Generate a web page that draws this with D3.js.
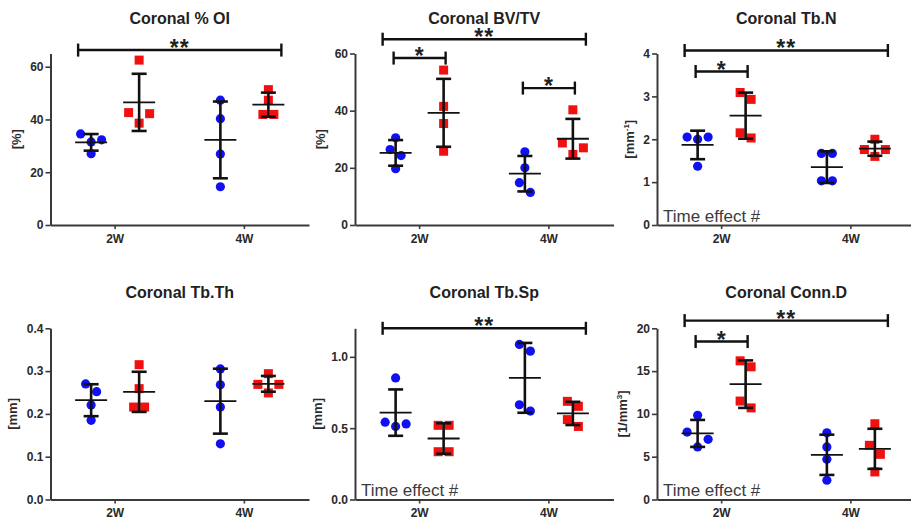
<!DOCTYPE html>
<html>
<head>
<meta charset="utf-8">
<script src="https://cdn.jsdelivr.net/npm/d3@7"></script>
<style>
  html, body { margin: 0; padding: 0; background: #fff; }
  svg { display: block; font-family: "Liberation Sans", Arial, sans-serif; }
</style>
</head>
<body>
<svg id="chart" width="911" height="525"></svg>
<script>
// ---------------- DATA ----------------
const categories = ["2W", "4W"];
const seriesNames = ["Group A", "Group B"];   // blue circles, red squares

const titles = ["Coronal % OI", "Coronal BV/TV", "Coronal Tb.N",
                "Coronal Tb.Th", "Coronal Tb.Sp", "Coronal Conn.D"];
const yUnits = [["[%]"], ["[%]"], ["[mm", "-1", "]"],
                ["[mm]"], ["[mm]"], ["[1/mm", "3", "]"]];
const yMax = [65, 60, 4, 0.4, 1.2, 20];
const yTicks = [[0, 20, 40, 60], [0, 20, 40, 60], [0, 1, 2, 3, 4],
                [0, 0.1, 0.2, 0.3, 0.4], [0, 0.5, 1.0], [0, 5, 10, 15, 20]];
const yFormats = ["d", "d", "d", ".1f", ".1f", "d"];
const timeEffect = [false, false, true, false, true, true];

// individual values: [series][category][animals]
const oiValues = [
  [[34.5, 32.3, 31.5, 27.0], [47.3, 40.3, 26.9, 14.5]],
  [[62.5, 42.6, 42.2, 38.6], [51.3, 47.3, 41.9, 41.9]]
];
const bvtvValues = [
  [[30.5, 26.4, 24.3, 19.7], [25.6, 20.0, 14.8, 11.4]],
  [[54.2, 41.5, 35.5, 25.8], [40.3, 28.7, 27.0, 24.7]]
];
const tbnValues = [
  [[2.05, 2.05, 2.00, 1.37], [1.67, 1.67, 1.03, 1.03]],
  [[3.09, 2.93, 2.15, 2.03], [2.00, 1.76, 1.76, 1.60]]
];
const tbthValues = [
  [[0.270, 0.252, 0.221, 0.185], [0.305, 0.268, 0.216, 0.130]],
  [[0.315, 0.259, 0.216, 0.216], [0.294, 0.269, 0.269, 0.249]]
];
const tbspValues = [
  [[0.852, 0.542, 0.530, 0.512], [1.087, 1.040, 0.664, 0.620]],
  [[0.520, 0.520, 0.335, 0.335], [0.688, 0.653, 0.560, 0.512]]
];
const conndValues = [
  [[9.83, 7.88, 7.03, 6.14], [7.80, 6.14, 4.70, 2.25]],
  [[16.2, 15.5, 11.5, 10.7], [8.85, 6.33, 5.28, 3.22]]
];

// significance brackets: from [category, series] to [category, series] at a y value
const oiSig = [{ from: [0, 0], to: [1, 1], y: 66.3, label: "**" }];
const bvtvSig = [
  { from: [0, 0], to: [1, 1], y: 65.0, label: "**" },
  { from: [0, 0], to: [0, 1], y: 58.4, label: "*" },
  { from: [1, 0], to: [1, 1], y: 47.9, label: "*" }
];
const tbnSig = [
  { from: [0, 0], to: [1, 1], y: 4.07, label: "**" },
  { from: [0, 0], to: [0, 1], y: 3.58, label: "*" }
];
const tbthSig = [];
const tbspSig = [{ from: [0, 0], to: [1, 1], y: 1.2, label: "**" }];
const conndSig = [
  { from: [0, 0], to: [1, 1], y: 20.9, label: "**" },
  { from: [0, 0], to: [0, 1], y: 18.45, label: "*" }
];

const panelValues = [oiValues, bvtvValues, tbnValues, tbthValues, tbspValues, conndValues];
const panelSigs = [oiSig, bvtvSig, tbnSig, tbthSig, tbspSig, conndSig];

// ---------------- LAYOUT / STYLE ----------------
const colX = [50.5, 355, 657];
const panelW = 258.5;
const rowTop = [53.5, 328.3];
const rowBottom = [225, 499.5];
const groupOffset = 24;
const colors = ["#1010f0", "#f01010"];
const axisColor = "#3a3a3a";

const svg = d3.select("#chart");
svg.append("rect").attr("width", 911).attr("height", 525).attr("fill", "#fff");

// simple GraphPad-like horizontal spreading of overlapping points
function spreadOffsets(vals, y) {
  const items = vals.map((v, i) => ({ v, i, py: y(v) })).sort((a, b) => b.v - a.v);
  const clusters = [];
  let cur = [items[0]];
  for (let k = 1; k < items.length; k++) {
    if (items[k].py - items[k - 1].py < 10) cur.push(items[k]);
    else { clusters.push(cur); cur = [items[k]]; }
  }
  clusters.push(cur);
  const offs = new Array(vals.length).fill(0);
  clusters.forEach(c => {
    let pattern;
    if (c.length === 1) pattern = [0];
    else if (c.length === 2) pattern = [-5.5, 5.5];
    else if (c.length === 3) pattern = [-10.5, 10.5, 0];
    else pattern = c.map((_, j) => (j - (c.length - 1) / 2) * 11);
    c.forEach((it, j) => { offs[it.i] = pattern[j]; });
  });
  return offs;
}

function drawPanel(p) {
  const col = p % 3, row = Math.floor(p / 3);
  const x0 = colX[col];
  const yB = rowBottom[row], yT = rowTop[row];
  const g = svg.append("g");

  const x = d3.scaleBand().domain(categories).range([x0, x0 + panelW]);
  const y = d3.scaleLinear().domain([0, yMax[p]]).range([yB, yT]);
  const groupX = (ci, si) => x(categories[ci]) + x.bandwidth() / 2 + (si === 0 ? -groupOffset : groupOffset);

  // axes
  const yAxis = g.append("g")
    .attr("transform", `translate(${x0},0)`)
    .call(d3.axisLeft(y).tickValues(yTicks[p]).tickFormat(d3.format(yFormats[p]))
      .tickSize(5).tickSizeOuter(0).tickPadding(2));
  const xAxis = g.append("g")
    .attr("transform", `translate(0,${yB})`)
    .call(d3.axisBottom(x).tickSize(4).tickSizeOuter(0).tickPadding(5));
  [yAxis, xAxis].forEach(a => {
    a.select(".domain").attr("stroke", axisColor).attr("stroke-width", 2);
    a.selectAll(".tick line").attr("stroke", axisColor).attr("stroke-width", 1.6);
    a.selectAll(".tick text").attr("fill", "#2a2a2a").attr("font-size", 12)
      .attr("font-weight", "bold").attr("font-family", "'Liberation Sans', Arial, sans-serif");
  });

  // y label
  const tickW = yAxis.node().getBBox().width;
  const lx = x0 - tickW - 9, ly = (yB + yT) / 2;
  const lab = g.append("text")
    .attr("transform", `translate(${lx},${ly}) rotate(-90)`)
    .attr("text-anchor", "middle")
    .attr("font-size", 13).attr("font-weight", "bold").attr("fill", "#2a2a2a");
  const parts = yUnits[p];
  lab.append("tspan").text(parts[0]);
  if (parts.length > 1) {
    lab.append("tspan").attr("font-size", 8).attr("dy", -5).text(parts[1]);
    lab.append("tspan").attr("dy", 5).text(parts[2]);
  }

  // title
  g.append("text")
    .attr("x", x0 + panelW / 2).attr("y", yT - 30)
    .attr("text-anchor", "middle")
    .attr("font-size", 16).attr("font-weight", "bold").attr("fill", "#222")
    .text(titles[p]);

  // time effect note
  if (timeEffect[p]) {
    g.append("text")
      .attr("x", x0 + 6).attr("y", yB - 3.5)
      .attr("font-size", 17).attr("fill", "#3c3c3c")
      .text("Time effect #");
  }

  const vals = panelValues[p];
  // points
  vals.forEach((series, si) => {
    series.forEach((arr, ci) => {
      const offs = spreadOffsets(arr, y);
      const cx = groupX(ci, si);
      arr.forEach((v, k) => {
        if (si === 0) {
          g.append("circle").attr("cx", cx + offs[k]).attr("cy", y(v)).attr("r", 4.6)
            .attr("fill", colors[0]);
        } else {
          g.append("rect").attr("x", cx + offs[k] - 4.5).attr("y", y(v) - 4.5)
            .attr("width", 9).attr("height", 9).attr("fill", colors[1]);
        }
      });
    });
  });

  // mean ± SD
  vals.forEach((series, si) => {
    series.forEach((arr, ci) => {
      const cx = groupX(ci, si);
      const m = d3.mean(arr), sd = d3.deviation(arr);
      const yTop = y(m + sd), yBot = y(m - sd), yM = y(m);
      const eb = g.append("g").attr("stroke", "#111").attr("fill", "none");
      eb.append("line").attr("x1", cx).attr("x2", cx).attr("y1", yTop).attr("y2", yBot).attr("stroke-width", 2.6);
      eb.append("line").attr("x1", cx - 7.5).attr("x2", cx + 7.5).attr("y1", yTop).attr("y2", yTop).attr("stroke-width", 2.6);
      eb.append("line").attr("x1", cx - 7.5).attr("x2", cx + 7.5).attr("y1", yBot).attr("y2", yBot).attr("stroke-width", 2.6);
      eb.append("line").attr("x1", cx - 16).attr("x2", cx + 16).attr("y1", yM).attr("y2", yM).attr("stroke-width", 1.8);
    });
  });

  // significance brackets
  panelSigs[p].forEach(s => {
    const wide = s.from[0] !== s.to[0];
    const ext = wide ? 13 : 2;
    const xa = groupX(s.from[0], s.from[1]) - ext;
    const xb = groupX(s.to[0], s.to[1]) + ext;
    const yy = y(s.y);
    const b = g.append("g").attr("stroke", "#111").attr("stroke-width", 2.4);
    b.append("line").attr("x1", xa).attr("x2", xb).attr("y1", yy).attr("y2", yy);
    b.append("line").attr("x1", xa).attr("x2", xa).attr("y1", yy - 6.5).attr("y2", yy + 6.5);
    b.append("line").attr("x1", xb).attr("x2", xb).attr("y1", yy - 6.5).attr("y2", yy + 6.5);
    g.append("text")
      .attr("x", (xa + xb) / 2).attr("y", yy + 6)
      .attr("text-anchor", "middle")
      .attr("font-size", 23).attr("font-weight", "bold").attr("fill", "#222")
      .attr("letter-spacing", 1)
      .text(s.label);
  });
}

for (let p = 0; p < 6; p++) drawPanel(p);
</script>
</body>
</html>
